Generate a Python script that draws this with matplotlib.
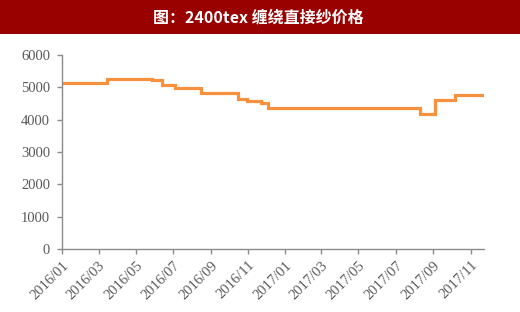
import matplotlib
matplotlib.use("Agg")
import matplotlib.pyplot as plt
import numpy as np
from matplotlib.patches import Rectangle

# step dates and price (yuan/ton)
dates = ["2016-01-01", "2016-03-14", "2016-05-27", "2016-06-13", "2016-07-04",
         "2016-08-16", "2016-10-15", "2016-10-31", "2016-11-22", "2016-12-03",
         "2017-08-10", "2017-09-03", "2017-10-07", "2017-11-22"]
prices = [5130, 5270, 5220, 5070, 4990, 4840, 4640, 4590, 4520, 4370,
          4190, 4620, 4750, 4750]
tick_dates = ["2016-01-01", "2016-03-01", "2016-05-01", "2016-07-01", "2016-09-01",
              "2016-11-01", "2017-01-01", "2017-03-01", "2017-05-01", "2017-07-01",
              "2017-09-01", "2017-11-01"]
tick_labels = ["2016/01", "2016/03", "2016/05", "2016/07", "2016/09", "2016/11",
               "2017/01", "2017/03", "2017/05", "2017/07", "2017/09", "2017/11"]
title = "图：2400tex 缠绕直接纱价格"

x = np.array(dates, dtype="datetime64[D]")
xt = np.array(tick_dates, dtype="datetime64[D]")

fig = plt.figure(figsize=(5.2, 3.12), dpi=100)
fig.patches.append(Rectangle((0, 1 - 34 / 312), 1, 34 / 312, transform=fig.transFigure,
                             facecolor="#990000", edgecolor="none", zorder=0))
fig.text(0.497, 1 - 17 / 312, title, color="white", fontsize=11.5, fontweight="bold",
         ha="center", va="center", family=["Noto Sans CJK SC", "DejaVu Sans"])

ax = fig.add_axes([62 / 520, 1 - 249 / 312, (484 - 62) / 520, (249 - 55) / 312])
ax.step(x, prices, where="post", color="#F7913D", lw=2.3, solid_joinstyle="miter")

ax.set_ylim(0, 6000)
ax.set_yticks(range(0, 6001, 1000))
ax.set_xlim(np.datetime64("2016-01-01"), np.datetime64("2017-11-23"))
ax.set_xticks(xt)
ax.set_xticklabels(tick_labels, rotation=45, ha="right", rotation_mode="anchor")

for s in ["top", "right"]:
    ax.spines[s].set_visible(False)
for s in ["left", "bottom"]:
    ax.spines[s].set_color("#8C8C8C")
    ax.spines[s].set_linewidth(1.0)
ax.tick_params(axis="both", colors="#8C8C8C", labelcolor="#595959", labelsize=10.5,
               length=3.5, width=1.0)
ax.tick_params(axis="y", pad=5)
for lab in ax.get_xticklabels() + ax.get_yticklabels():
    lab.set_family("Liberation Serif")

fig.savefig("out.png", dpi=100)
